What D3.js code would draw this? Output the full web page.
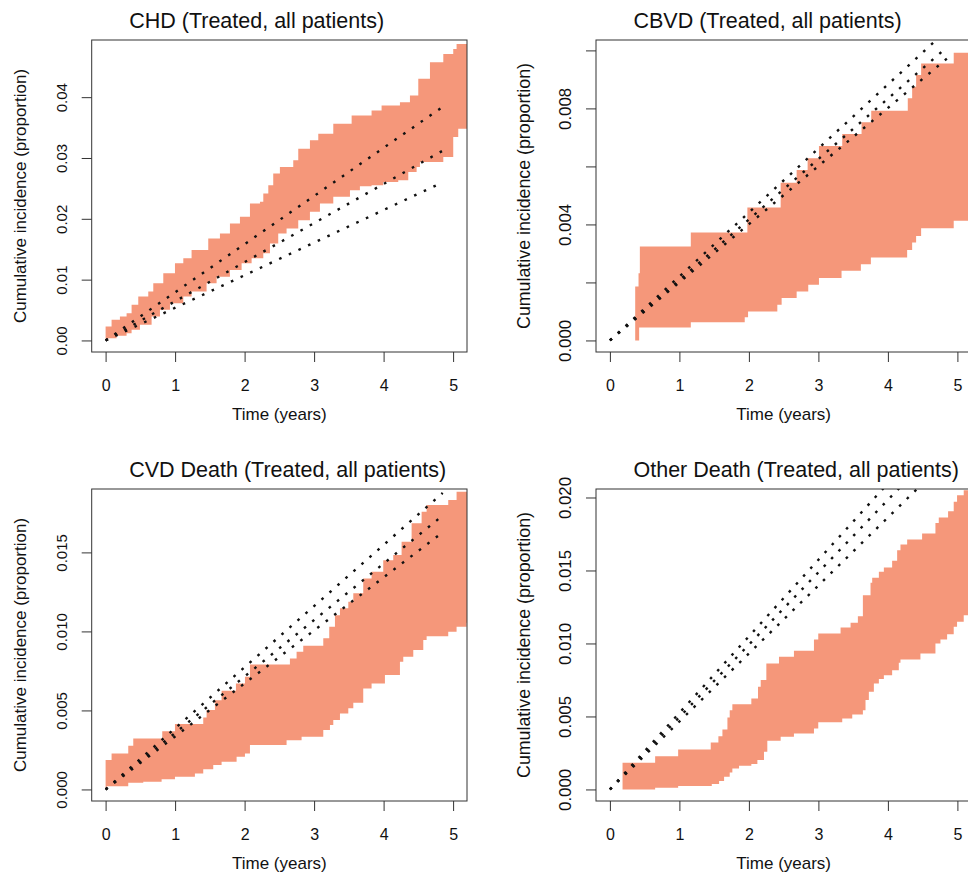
<!DOCTYPE html>
<html>
<head>
<meta charset="utf-8">
<script src="https://cdn.jsdelivr.net/npm/d3@7"></script>
<style>
  html, body { margin: 0; padding: 0; background: #fff; }
  svg { display: block; font-family: "Liberation Sans", Arial, Helvetica, sans-serif; }
</style>
</head>
<body>
<div id="chart"></div>
<script>
// ---------------- DATA ----------------
const titles = [
  "CHD (Treated, all patients)",
  "CBVD (Treated, all patients)",
  "CVD Death (Treated, all patients)",
  "Other Death (Treated, all patients)"
];
const xTicks = [0, 1, 2, 3, 4, 5];
const xLabel = "Time (years)";
const yLabel = "Cumulative incidence (proportion)";

// y-axis upper data limit per panel
const yMaxValues = [0.0475, 0.00996, 0.01828, 0.01979];
const yTickValues = [
  [0, 0.01, 0.02, 0.03, 0.04],
  [0, 0.002, 0.004, 0.006, 0.008, 0.010],
  [0, 0.005, 0.010, 0.015],
  [0, 0.005, 0.010, 0.015, 0.020]
];
const yTickLabels = [
  ["0.00", "0.01", "0.02", "0.03", "0.04"],
  ["0.000", "", "0.004", "", "0.008", ""],
  ["0.000", "0.005", "0.010", "0.015"],
  ["0.000", "0.005", "0.010", "0.015", "0.020"]
];

// Observed cumulative incidence confidence band (step functions): [time, value]
const chdUpper = [[0,0.0023],[0.086,0.00339],[0.206,0.00393],[0.302,0.00448],[0.374,0.00585],[0.47,0.00721],[0.614,0.00803],[0.686,0.0094],[0.83,0.01104],[0.998,0.01268],[1.118,0.0135],[1.237,0.01486],[1.477,0.01678],[1.645,0.0176],[1.789,0.01923],[1.933,0.02033],[2.077,0.02251],[2.221,0.02279],[2.269,0.02415],[2.341,0.02552],[2.412,0.02743],[2.508,0.02852],[2.7,0.02962],[2.772,0.03153],[2.94,0.0329],[3.06,0.03399],[3.276,0.03563],[3.54,0.03699],[3.827,0.03781],[3.971,0.03863],[4.235,0.03918],[4.379,0.04027],[4.499,0.04301],[4.667,0.04574],[4.859,0.0471],[5.002,0.04792],[5.05,0.04874]];
const chdLower = [[0,0],[0.038,0.00038],[0.158,0.00077],[0.302,0.0012],[0.374,0.00175],[0.494,0.00257],[0.662,0.00393],[0.782,0.00503],[0.926,0.00612],[1.118,0.00721],[1.237,0.00803],[1.453,0.0094],[1.597,0.01049],[1.789,0.01158],[1.957,0.01268],[2.101,0.0135],[2.269,0.01432],[2.365,0.01596],[2.484,0.0176],[2.604,0.01842],[2.772,0.01978],[2.94,0.02115],[3.084,0.02251],[3.276,0.02361],[3.516,0.0247],[3.659,0.02536],[3.827,0.02552],[3.995,0.02607],[4.211,0.02634],[4.355,0.0277],[4.475,0.02852],[4.523,0.02934],[4.859,0.03016],[5.002,0.03344],[5.074,0.03481]];

const cbvdUpper = [[0.364,0.00186],[0.412,0.00232],[0.431,0.00324],[1.164,0.00372],[1.978,0.00458],[2.457,0.00544],[2.687,0.00588],[2.845,0.00628],[3.008,0.0067],[3.343,0.00712],[3.621,0.00752],[3.76,0.00792],[4.286,0.00835],[4.349,0.00875],[4.406,0.00915],[4.478,0.00955],[4.947,0.00992]];
const cbvdLower = [[0.364,0],[0.421,0.00045],[1.164,0.00063],[1.94,0.0008],[1.988,0.001],[2.409,0.00123],[2.471,0.00146],[2.687,0.00169],[2.854,0.00192],[3.008,0.00215],[3.333,0.0024],[3.611,0.00263],[3.755,0.00286],[4.277,0.00312],[4.349,0.00338],[4.406,0.0036],[4.478,0.00387],[4.947,0.00413]];

const cvdUpper = [[0,0.00186],[0.086,0.00228],[0.326,0.00276],[0.398,0.00323],[0.815,0.00369],[0.998,0.00414],[1.405,0.00456],[1.453,0.00502],[1.573,0.00565],[1.669,0.00624],[1.875,0.00671],[2.005,0.00713],[2.077,0.00791],[2.652,0.00829],[2.748,0.00871],[2.844,0.00909],[3.132,0.00956],[3.218,0.0103],[3.3,0.01103],[3.372,0.01146],[3.492,0.01188],[3.564,0.01241],[3.707,0.01335],[3.827,0.01378],[3.995,0.01451],[4.139,0.01483],[4.259,0.01568],[4.403,0.01684],[4.547,0.01757],[4.619,0.018],[4.93,0.01831],[5.05,0.01884]];
const cvdLower = [[0,0],[0.014,0.00021],[0.326,0.00042],[0.542,0.00049],[0.806,0.00065],[0.998,0.0008],[1.285,0.00101],[1.405,0.00127],[1.549,0.00154],[1.669,0.00175],[1.885,0.00207],[2.005,0.00228],[2.077,0.00281],[2.604,0.00312],[2.82,0.00333],[3.132,0.00376],[3.228,0.00407],[3.276,0.00439],[3.372,0.00481],[3.492,0.00513],[3.564,0.00549],[3.707,0.00639],[3.827,0.00671],[4.019,0.00724],[4.235,0.00808],[4.283,0.0084],[4.427,0.00882],[4.571,0.00945],[4.619,0.0097],[4.93,0.00998],[5.05,0.0103],[5.194,0.01055]];

const otherUpper = [[0.182,0.00183],[0.651,0.00228],[0.982,0.00274],[1.451,0.00322],[1.561,0.00365],[1.619,0.00411],[1.691,0.00493],[1.724,0.00543],[1.762,0.00584],[2.035,0.00623],[2.131,0.00703],[2.17,0.00749],[2.251,0.00863],[2.433,0.00909],[2.648,0.0095],[2.936,0.01027],[2.998,0.01068],[3.319,0.0111],[3.463,0.01142],[3.568,0.01187],[3.64,0.01331],[3.75,0.01416],[3.774,0.0145],[3.87,0.01491],[3.942,0.01521],[4.061,0.01566],[4.133,0.01639],[4.181,0.01678],[4.277,0.01712],[4.492,0.01753],[4.684,0.01826],[4.732,0.01863],[4.866,0.01906],[4.947,0.0197],[4.995,0.02016],[5.091,0.0205]];
const otherLower = [[0.182,0],[0.651,0.00011],[0.982,0.00023],[1.466,0.00037],[1.571,0.00057],[1.643,0.00087],[1.724,0.00116],[1.762,0.00144],[1.858,0.00162],[2.035,0.00174],[2.122,0.00201],[2.217,0.00258],[2.265,0.00333],[2.457,0.00361],[2.648,0.00384],[2.936,0.00418],[2.998,0.00461],[3.343,0.00486],[3.487,0.00514],[3.64,0.00543],[3.678,0.00612],[3.726,0.00669],[3.798,0.00726],[3.87,0.00756],[3.942,0.00783],[4.061,0.00817],[4.157,0.00868],[4.181,0.0089],[4.468,0.00932],[4.684,0.01],[4.756,0.01027],[4.852,0.01064],[4.947,0.01114],[4.995,0.01148],[5.091,0.01194]];

// Predicted cumulative incidence (three dotted lines per panel), value at lineEndTime
const lineEndTime = 4.85;
const chdPred   = [0.0384, 0.0312, 0.0260];
const cbvdPred  = [0.0107, 0.01011, 0.00972];
const cvdPred   = [0.01876, 0.01733, 0.01627];
const otherPred = [0.02543, 0.02405, 0.02259];

const bandsUpper = [chdUpper, cbvdUpper, cvdUpper, otherUpper];
const bandsLower = [chdLower, cbvdLower, cvdLower, otherLower];
const preds = [chdPred, cbvdPred, cvdPred, otherPred];

// ---------------- LAYOUT ----------------
const W = 968, H = 875;
const plotW = 375.3, plotH = 312;
const colLeft = [91.7, 596];
const rowTop = [40, 489];
const xDomain = [-0.2, 5.2];
const bandColor = "#F5977A";
const axisColor = "#333";
const yTickFont = [15, 16.8];
const yLabFont = [17, 17.8];

const svg = d3.select("#chart").append("svg")
  .attr("width", W).attr("height", H).attr("viewBox", `0 0 ${W} ${H}`);

function stepVal(arr, t) {
  let v = null;
  for (const p of arr) { if (p[0] <= t + 1e-9) v = p[1]; else break; }
  return v;
}

for (let i = 0; i < 4; i++) {
  const col = i % 2;
  const L = colLeft[col], T = rowTop[Math.floor(i / 2)];
  const M = yMaxValues[i];
  const x = d3.scaleLinear().domain(xDomain).range([L, L + plotW]);
  const y = d3.scaleLinear().domain([-0.04 * M, 1.04 * M]).range([T + plotH, T]);
  const g = svg.append("g");

  const clipId = "clip" + i;
  svg.append("clipPath").attr("id", clipId)
    .append("rect").attr("x", L).attr("y", T).attr("width", plotW).attr("height", plotH);

  const plot = g.append("g").attr("clip-path", `url(#${clipId})`);

  // Band
  const up = bandsUpper[i], lo = bandsLower[i];
  const start = Math.max(up[0][0], lo[0][0]);
  let times = Array.from(new Set(up.map(d => d[0]).concat(lo.map(d => d[0])))).filter(t => t >= start);
  times.push(xDomain[1]);
  times.sort((a, b) => a - b);
  const bandData = times.map(t => ({ t, hi: stepVal(up, t), lo: stepVal(lo, t) }));
  const area = d3.area()
    .x(d => x(d.t)).y0(d => y(d.lo)).y1(d => y(d.hi))
    .curve(d3.curveStepAfter);
  plot.append("path").datum(bandData)
    .attr("d", area).attr("fill", bandColor).attr("stroke", "none");

  // Predicted dotted lines
  const line = d3.line().x(d => x(d[0])).y(d => y(d[1]));
  preds[i].forEach(v => {
    plot.append("path").datum([[0, 0], [lineEndTime, v]])
      .attr("d", line)
      .attr("fill", "none")
      .attr("stroke", "#111")
      .attr("stroke-width", 2.4)
      .attr("stroke-dasharray", "2.6 8.05");
  });

  // Box
  g.append("rect").attr("x", L).attr("y", T).attr("width", plotW).attr("height", plotH)
    .attr("fill", "none").attr("stroke", axisColor).attr("stroke-width", 1);

  // X axis
  const xAxis = g.append("g").attr("transform", `translate(0,${T + plotH})`)
    .call(d3.axisBottom(x).tickValues(xTicks).tickSize(10).tickFormat(d3.format("d")));
  xAxis.select(".domain").remove();
  xAxis.selectAll(".tick line").attr("stroke", axisColor);
  xAxis.selectAll(".tick text")
    .attr("y", 39).attr("dy", null)
    .attr("font-size", "16px").attr("fill", "#111")
    .attr("font-family", "Liberation Sans, Arial, sans-serif");

  // Y axis
  const labs = yTickLabels[i];
  const yAxis = g.append("g").attr("transform", `translate(${L},0)`)
    .call(d3.axisLeft(y).tickValues(yTickValues[i]).tickSize(10)
      .tickFormat((d, k) => labs[k]));
  yAxis.select(".domain").remove();
  yAxis.selectAll(".tick line").attr("stroke", axisColor);
  yAxis.selectAll(".tick text")
    .attr("x", null).attr("dy", null)
    .attr("transform", "translate(-25,0) rotate(-90)")
    .attr("text-anchor", "middle")
    .attr("font-size", yTickFont[col] + "px").attr("fill", "#111")
    .attr("font-family", "Liberation Sans, Arial, sans-serif");

  // Title
  g.append("text").attr("x", L + 37.5).attr("y", T - 12)
    .attr("font-size", "21.5px").attr("fill", "#111")
    .text(titles[i]);

  // Axis labels
  g.append("text").attr("x", L + plotW / 2).attr("y", T + plotH + 68)
    .attr("text-anchor", "middle").attr("font-size", "17px").attr("fill", "#111")
    .text(xLabel);
  g.append("text")
    .attr("transform", `translate(${L - 66},${T + plotH / 2}) rotate(-90)`)
    .attr("text-anchor", "middle").attr("font-size", yLabFont[col] + "px").attr("fill", "#111")
    .text(yLabel);
}
</script>
</body>
</html>
